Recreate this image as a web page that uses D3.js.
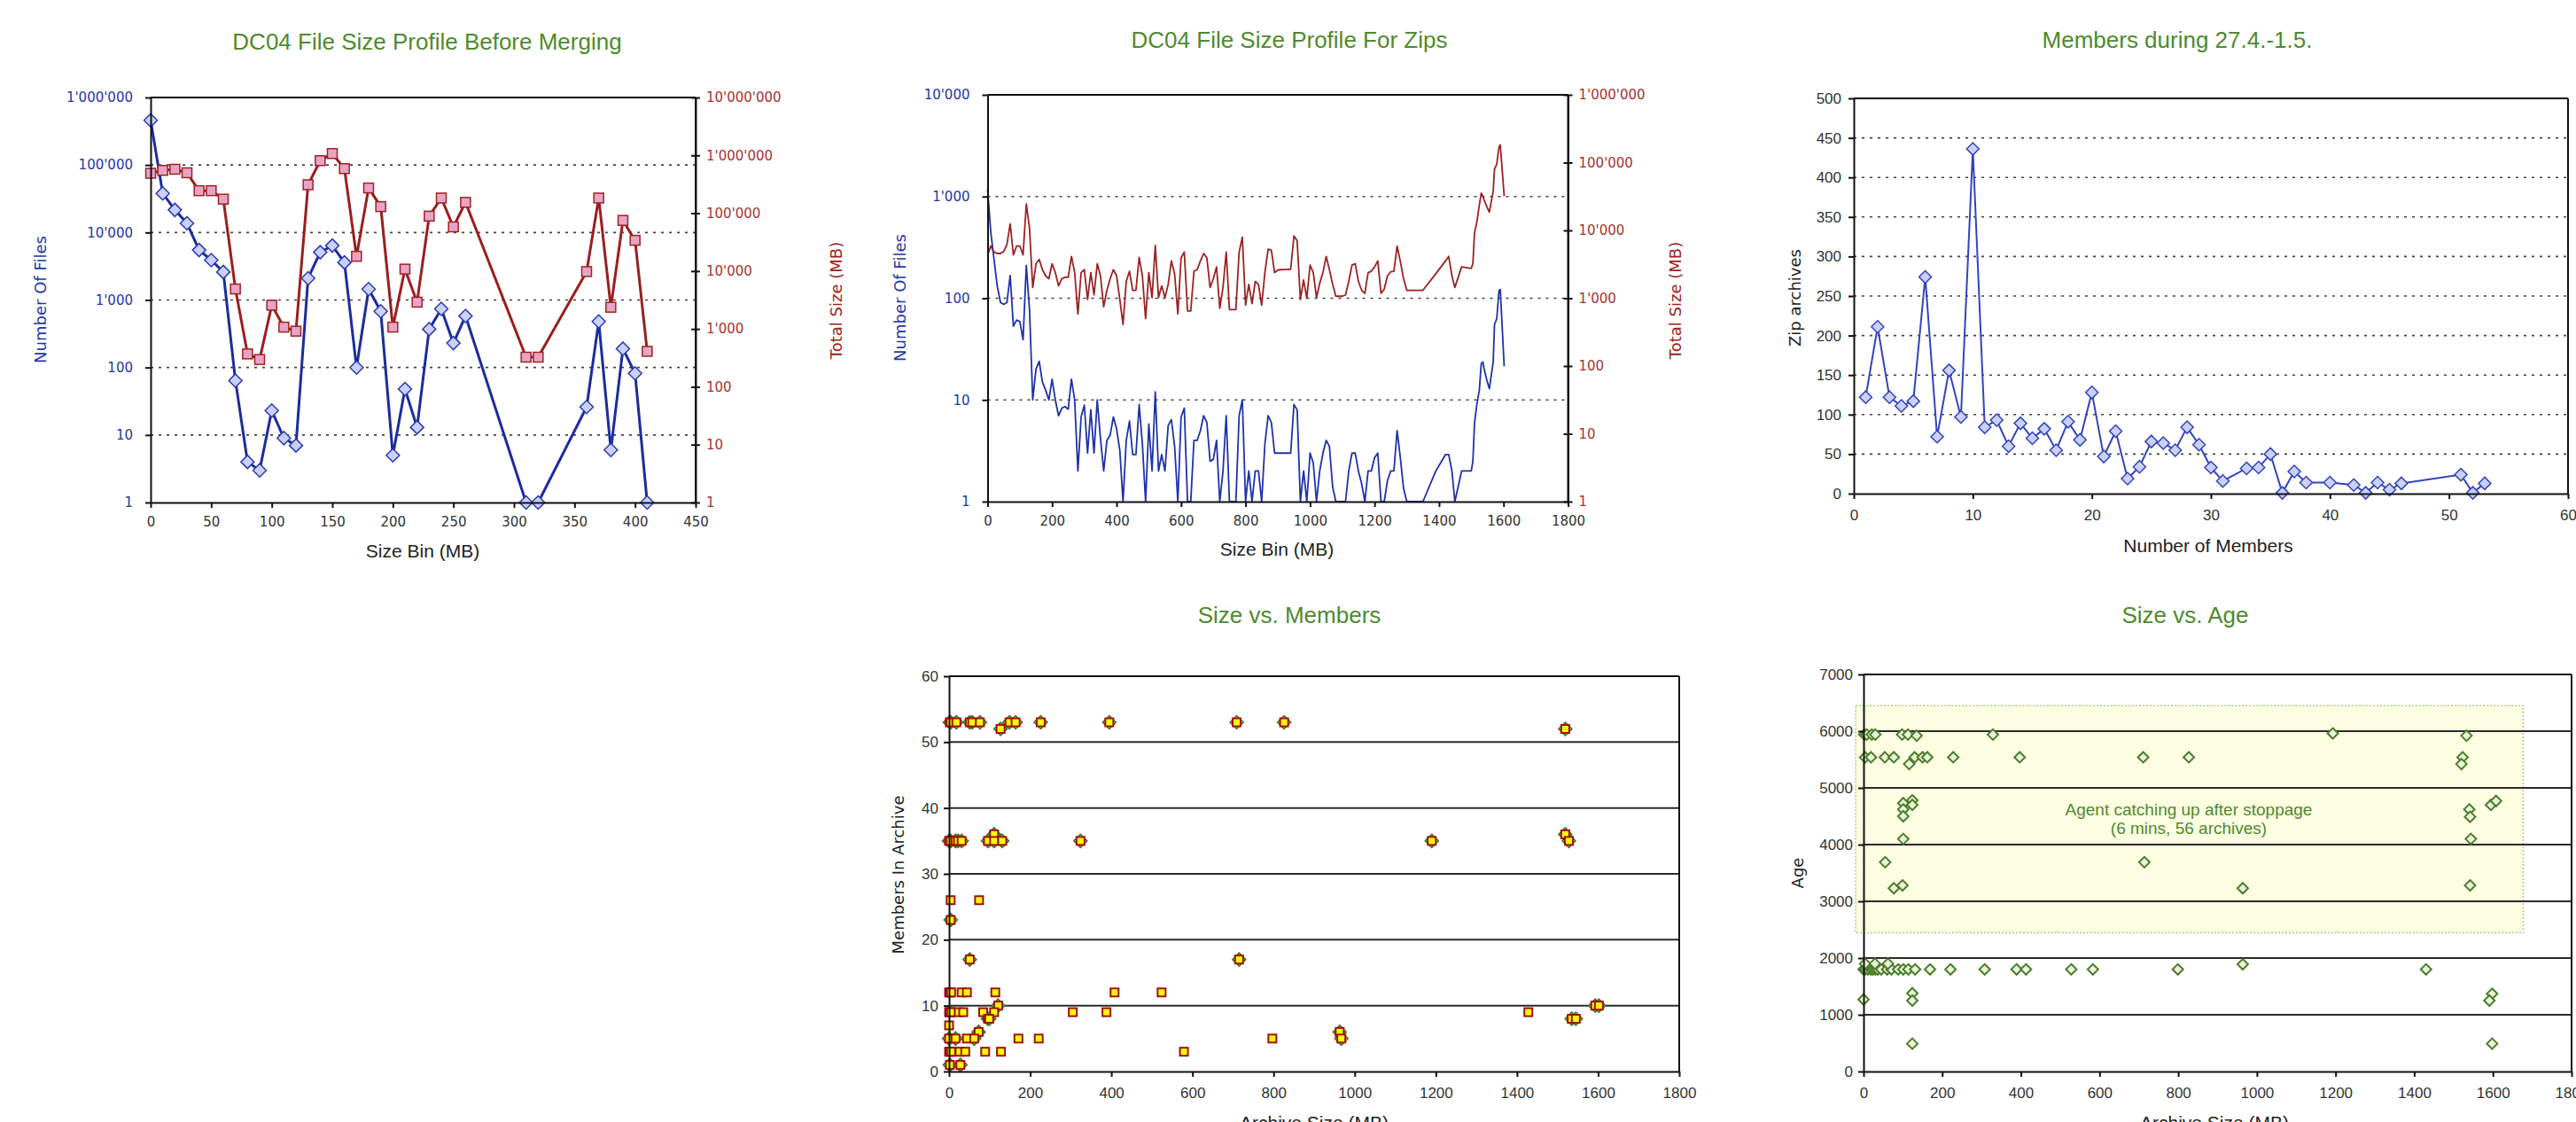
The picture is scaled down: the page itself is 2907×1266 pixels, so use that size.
<!DOCTYPE html>
<html>
<head>
<meta charset="utf-8">
<script src="https://cdn.jsdelivr.net/npm/d3@7"></script>
<style>
  body { margin: 0; background: #fff; }
  svg { display: block; }
</style>
</head>
<body>
<script>
// ---- chart 1: file size profile before merging (10 MB bins)
const sizeBins1 = [0, 10, 20, 30, 40, 50, 60, 70, 80, 90, 100, 110, 120, 130, 140, 150, 160, 170, 180, 190,
  200, 210, 220, 230, 240, 250, 260, 310, 320, 360, 370, 380, 390, 400, 410];
const files1 = [460000, 38000, 21600, 13700, 5500, 3900, 2600, 64, 4, 3, 23, 9, 7, 2100, 5100, 6400, 3600, 100, 1450, 680,
  5, 48, 13, 370, 740, 230, 580, 1, 1, 26, 480, 6, 190, 82, 1];
const total1 = [490000, 550000, 575000, 500000, 245000, 245000, 175000, 4900, 370, 296, 2570, 1075, 915, 310000, 810000, 1075000, 590000, 18000, 273000, 130000,
  1075, 10800, 2900, 89000, 183000, 58000, 154000, 325, 325, 9800, 183000, 2370, 75000, 34000, 410];
const sizeTicks1 = [0, 50, 100, 150, 200, 250, 300, 350, 400, 450];
const filesTicks1 = [1, 10, 100, 1000, 10000, 100000, 1000000];
const totalTicks1 = [1, 10, 100, 1000, 10000, 100000, 1000000, 10000000];

// ---- chart 2: file size profile for zips
const sizeBins2 = [0, 10, 20, 30, 40, 50, 60, 70, 80, 90,
  100, 110, 120, 130, 140, 150, 160, 170, 180, 190,
  200, 210, 220, 230, 240, 250, 260, 270, 280, 290,
  300, 310, 320, 330, 340, 350, 360, 370, 380, 390,
  400, 410, 420, 430, 440, 450, 460, 470, 480, 490,
  500, 510, 520, 530, 540, 550, 560, 570, 580, 590,
  600, 610, 620, 630, 640, 650, 660, 670, 680, 690,
  700, 710, 720, 730, 740, 750, 760, 770, 780, 790,
  800, 810, 820, 830, 840, 850, 860, 870, 880, 890,
  900, 910, 920, 930, 940, 950, 960, 970, 980, 990,
  1000, 1010, 1020, 1030, 1040, 1050, 1060, 1070, 1080, 1090,
  1100, 1110, 1120, 1130, 1140, 1150, 1160, 1170, 1180, 1190,
  1200, 1210, 1220, 1230, 1240, 1250, 1260, 1270, 1280, 1290,
  1300, 1350, 1390, 1420, 1430, 1440, 1449, 1470, 1500, 1505, 1510, 1517, 1525, 1531, 1536, 1540,
  1549, 1556, 1568, 1572, 1579, 1586, 1590, 1595, 1602];
const files2 = [1175, 443, 240, 131, 91, 87, 91, 167, 53, 61,
  59, 39, 210, 77, 10, 20, 24, 15, 12.5, 10,
  16, 10, 7, 8.3, 8.6, 8.1, 16, 10, 2, 6.8,
  8.9, 3, 8, 3, 10, 4.2, 2, 4, 4.5, 6.8,
  5.2, 3.2, 1, 4, 6.2, 2.9, 2.9, 9, 3.7, 1,
  5.8, 2, 12, 2, 2.9, 2, 5.6, 6.4, 3.5, 1,
  6.8, 8.3, 1, 1, 4, 4, 5, 7, 6, 2.5,
  2.6, 4, 1, 2, 7, 1, 1, 1, 7, 10,
  1, 2, 1, 2, 2, 1, 3.7, 7, 6, 3,
  3, 3, 3, 3, 3, 9, 8, 1, 2, 1,
  3, 2.4, 1, 2, 3, 4, 3.5, 1.4, 1, 1,
  1, 1, 2, 3, 3, 2, 1.5, 1, 2, 2,
  2.7, 3, 1, 1, 1.6, 2, 2, 5, 2.7, 1.35,
  1, 1, 2, 2.9, 2.9, 2, 1, 2, 2, 2.5, 5.9, 8.9, 12.5, 22.8, 23.6, 20,
  15.3, 12.9, 23.6, 55, 63, 119, 122, 58.6, 21.4];
const total2 = [4360, 5900, 4800, 4570, 4570, 4900, 6200, 12500, 4360, 5900,
  5900, 4360, 24500, 10700, 1440, 3230, 3730, 2640, 2140, 1940,
  3230, 2390, 1520, 1940, 2040, 2040, 4140, 2390, 585, 2390,
  2640, 960, 2390, 1120, 3230, 2140, 750, 1310, 1940, 2640,
  2140, 960, 410, 1770, 2500, 1310, 1310, 4000, 2140, 500,
  2390, 1020, 6000, 1020, 1520, 1020, 1600, 3550, 2270, 585,
  3930, 4800, 650, 650, 2500, 2640, 3550, 4570, 3930, 1440,
  1940, 2900, 710, 1440, 4800, 680, 680, 680, 4800, 7940,
  790, 1600, 830, 1770, 1600, 790, 2400, 5300, 5100, 2390,
  2600, 2640, 2650, 2660, 2680, 8300, 7000, 960, 1860, 1000,
  3080, 2390, 1020, 1670, 2390, 4140, 2640, 1600, 1070, 1070,
  1070, 1120, 1770, 3080, 3230, 1770, 1310, 1180, 2390, 2500,
  2900, 3550, 1180, 1360, 2140, 2450, 2500, 5870, 3500, 1940,
  1310, 1310, 2300, 3550, 4140, 2140, 1440, 2900, 2760, 3230, 9200, 13100, 23800, 35600, 32000, 28000,
  22000, 18600, 38000, 80000, 95000, 170000, 182000, 89000, 32000];
const sizeTicks2 = [0, 200, 400, 600, 800, 1000, 1200, 1400, 1600, 1800];
const filesTicks2 = [1, 10, 100, 1000, 10000];
const totalTicks2 = [1, 10, 100, 1000, 10000, 100000, 1000000];

// ---- chart 3: members during 27.4.-1.5.
const members3 = [1, 2, 3, 4, 5, 6, 7, 8, 9, 10, 11, 12, 13, 14, 15, 16, 17, 18, 19, 20,
  21, 22, 23, 24, 25, 26, 27, 28, 29, 30, 31, 33, 34, 35, 36, 37, 38, 40, 42, 43, 44, 45, 46, 51, 52, 53];
const zips3 = [122, 211, 122, 111, 117, 274, 72, 156, 97, 436, 84, 93, 60, 89, 70, 82, 55, 91, 68, 128,
  47, 79, 19, 34, 66, 64, 55, 84, 62, 33, 16, 32, 33, 50, 1, 28, 14, 14, 11, 1, 14, 5, 13, 24, 1, 13];
const memberTicks3 = [0, 10, 20, 30, 40, 50, 60];
const zipTicks3 = [0, 50, 100, 150, 200, 250, 300, 350, 400, 450, 500];

// ---- chart 4: size vs. members (all archives = squares, catch-up archives = diamonds)
const sqSize4 = [2, 4, 18, 51, 57, 76, 127, 149, 164, 226, 395, 709, 826, 1519,
  0, 4, 16, 22, 31, 96, 111, 111, 131, 324, 1190, 1519, 1528,
  4, 74, 4, 51, 715,
  0, 3, 5, 31, 44, 114, 408, 524,
  121, 1593, 1602,
  0, 2, 5, 24, 35, 84, 111, 305, 388, 1428,
  96, 99, 1535, 1545, 0, 73, 963,
  0, 16, 44, 62, 171, 221, 797, 967,
  0, 3, 5, 26, 40, 89, 128, 579, 2, 28];
const sqMembers4 = [53, 53, 53, 53, 53, 53, 52, 53, 53, 53, 53, 53, 53, 52,
  35, 35, 35, 35, 35, 35, 36, 35, 35, 35, 35, 36, 35,
  26, 26, 23, 17, 17,
  12, 12, 12, 12, 12, 12, 12, 12,
  10, 10, 10,
  9, 9, 9, 9, 9, 9, 9, 9, 9, 9,
  8, 8, 8, 8, 7, 6, 6,
  5, 5, 5, 5, 5, 5, 5, 5,
  3, 3, 3, 3, 3, 3, 3, 3, 1, 1];
const diaSize4 = [2, 4, 18, 51, 57, 76, 127, 149, 164, 226, 395, 709, 826, 1519,
  0, 4, 16, 22, 31, 96, 111, 111, 131, 324, 1190, 1519, 1528,
  4, 51, 715, 121, 1593, 1602, 96, 99, 1535, 1545, 73, 963, 967, 0, 16, 62, 2, 28];
const diaMembers4 = [53, 53, 53, 53, 53, 53, 52, 53, 53, 53, 53, 53, 53, 52,
  35, 35, 35, 35, 35, 35, 36, 35, 35, 35, 35, 36, 35,
  23, 17, 17, 10, 10, 10, 8, 8, 8, 8, 6, 6, 5, 5, 5, 5, 1, 1];
const sizeTicks4 = [0, 200, 400, 600, 800, 1000, 1200, 1400, 1600, 1800];
const memberTicks4 = [0, 10, 20, 30, 40, 50, 60];

// ---- chart 5: size vs. age
const size5 = [2, 8, 21, 30, 98, 113, 135, 329, 1193, 1533,
  4, 19, 54, 77, 130, 150, 162, 228, 397, 711, 827, 1523, 116, 1520,
  124, 101, 124, 101, 101, 101, 55, 77, 99,
  1540, 1542, 1544, 1542, 1595, 1608, 714, 964,
  0, 4, 11, 19, 24, 30, 36, 45, 60, 71, 88, 101, 114, 131, 169, 221, 308, 389, 413, 528, 583, 799, 1430,
  4, 29, 62, 964,
  0, 124, 124, 124, 1598, 1591, 1598];
const age5 = [5940, 5940, 5940, 5940, 5940, 5940, 5920, 5940, 5960, 5920,
  5540, 5540, 5540, 5540, 5540, 5540, 5540, 5540, 5540, 5540, 5540, 5540, 5420, 5420,
  4780, 4730, 4700, 4620, 4500, 4100, 3690, 3230, 3280,
  4620, 4490, 4100, 3280, 4700, 4770, 3690, 3230,
  1800, 1800, 1800, 1800, 1800, 1800, 1800, 1800, 1800, 1800, 1800, 1800, 1800, 1800, 1800, 1800, 1800, 1800, 1800, 1800, 1800, 1800, 1800,
  1900, 1900, 1900, 1890,
  1270, 1380, 1250, 490, 1370, 1250, 490];
const sizeTicks5 = [0, 200, 400, 600, 800, 1000, 1200, 1400, 1600, 1800];
const ageTicks5 = [0, 1000, 2000, 3000, 4000, 5000, 6000, 7000];
const catchUpSize5 = [-20, 1677];
const catchUpAge5 = [2445, 6450];

// ---------------------------------------------------------------
const W = 2907, H = 1266;
const GREEN = '#4e8a2e', BLUE = '#2337a6', RED = '#9b2222', INK = '#222';
const F_SANS = '"Liberation Sans", Arial, sans-serif';
const F_VERD = '"DejaVu Sans", Verdana, sans-serif';
const fmtQ = d3.formatLocale({decimal: '.', thousands: "'", grouping: [3], currency: ['', '']}).format(',');
const fmtN = d3.format('d');

const svg = d3.select('body').append('svg').attr('width', W).attr('height', H);
svg.append('rect').attr('width', W).attr('height', H).attr('fill', '#fff');

function diamond(r) { return `M0,${-r}L${r},0L0,${r}L${-r},0Z`; }

function label(x, y, text, o) {
  const t = svg.append('text').attr('x', x).attr('y', y).attr('dy', '0.35em')
    .attr('text-anchor', 'middle').attr('fill', o.color)
    .style('font-family', o.font).style('font-size', o.size + 'px').text(text);
  if (o.rotate) t.attr('transform', `rotate(-90,${x},${y})`);
  return t;
}

function styleAxis(g, color, font, size) {
  g.select('.domain').attr('stroke', '#111').attr('stroke-width', 2);
  g.selectAll('.tick line').attr('stroke', '#111').attr('stroke-width', 2);
  g.selectAll('.tick text').attr('fill', color).style('font-family', font).style('font-size', size + 'px');
}

function gridH(P, ys, dotted) {
  svg.append('g').selectAll('line').data(ys).enter().append('line')
    .attr('x1', P.l).attr('x2', P.r).attr('y1', d => d).attr('y2', d => d)
    .attr('stroke', dotted ? '#444' : '#2a2a2a').attr('stroke-width', dotted ? 1.6 : 2)
    .attr('stroke-dasharray', dotted ? '3,6' : null);
}

function frame(P) {
  svg.append('line').attr('x1', P.l).attr('x2', P.r).attr('y1', P.t).attr('y2', P.t)
    .attr('stroke', '#111').attr('stroke-width', 2);
  svg.append('line').attr('x1', P.r).attr('x2', P.r).attr('y1', P.t).attr('y2', P.b)
    .attr('stroke', '#111').attr('stroke-width', 2);
}

// ================= chart 1 =================
const P1 = {l: 170, r: 785, t: 110, b: 567};
const x1 = d3.scaleLinear().domain([0, 450]).range([P1.l, P1.r]);
const y1 = d3.scaleLog().domain([1, 1e6]).range([P1.b, P1.t]);
const y1r = d3.scaleLog().domain([1, 1e7]).range([P1.b, P1.t]);

gridH(P1, filesTicks1.slice(1, -1).map(y1), true);
frame(P1);

const idx1 = d3.range(sizeBins1.length);
svg.append('path')
  .attr('d', d3.line().x(i => x1(sizeBins1[i])).y(i => y1(files1[i]))(idx1))
  .attr('fill', 'none').attr('stroke', '#1c2c9c').attr('stroke-width', 3);
svg.append('g').selectAll('path').data(idx1).enter().append('path')
  .attr('d', diamond(7.5))
  .attr('transform', i => `translate(${x1(sizeBins1[i])},${y1(files1[i])})`)
  .attr('fill', '#c9d0fb').attr('stroke', '#2a3cb0').attr('stroke-width', 1.5);

svg.append('path')
  .attr('d', d3.line().x(i => x1(sizeBins1[i])).y(i => y1r(total1[i]))(idx1))
  .attr('fill', 'none').attr('stroke', '#9b1e1e').attr('stroke-width', 3);
svg.append('g').selectAll('rect').data(idx1).enter().append('rect')
  .attr('x', i => x1(sizeBins1[i]) - 5.5).attr('y', i => y1r(total1[i]) - 5.5)
  .attr('width', 11).attr('height', 11)
  .attr('fill', '#e8a4c6').attr('stroke', '#a02222').attr('stroke-width', 1.5);

const a1l = svg.append('g').attr('transform', `translate(${P1.l},0)`)
  .call(d3.axisLeft(y1).tickValues(filesTicks1).tickFormat(fmtQ).tickSizeInner(6).tickSizeOuter(0).tickPadding(14));
styleAxis(a1l, BLUE, F_VERD, 15);
const a1r = svg.append('g').attr('transform', `translate(${P1.r},0)`)
  .call(d3.axisRight(y1r).tickValues(totalTicks1).tickFormat(fmtQ).tickSizeInner(5).tickSizeOuter(0).tickPadding(7));
styleAxis(a1r, '#a83232', F_VERD, 15);
a1r.selectAll('.tick line').attr('x1', -5);
const a1b = svg.append('g').attr('transform', `translate(0,${P1.b})`)
  .call(d3.axisBottom(x1).tickValues(sizeTicks1).tickFormat(fmtN).tickSizeInner(6).tickSizeOuter(0).tickPadding(10));
styleAxis(a1b, '#333', F_VERD, 15);

label(482, 47, 'DC04 File Size Profile Before Merging', {color: GREEN, font: F_SANS, size: 26});
label(477, 622, 'Size Bin (MB)', {color: INK, font: F_SANS, size: 21});
label(46, 338, 'Number Of Files', {color: BLUE, font: F_VERD, size: 18, rotate: true});
label(944, 339, 'Total Size (MB)', {color: RED, font: F_VERD, size: 18, rotate: true});

// ================= chart 2 =================
const P2 = {l: 1114.5, r: 1769.5, t: 107, b: 566};
const x2 = d3.scaleLinear().domain([0, 1800]).range([P2.l, P2.r]);
const y2 = d3.scaleLog().domain([1, 1e4]).range([P2.b, P2.t]);
const y2r = d3.scaleLog().domain([1, 1e6]).range([P2.b, P2.t]);

gridH(P2, filesTicks2.slice(1, -1).map(y2), true);
frame(P2);

const idx2 = d3.range(sizeBins2.length);
svg.append('path')
  .attr('d', d3.line().x(i => x2(sizeBins2[i])).y(i => y2(files2[i]))(idx2))
  .attr('fill', 'none').attr('stroke', '#1f32a8').attr('stroke-width', 1.8).attr('stroke-linejoin', 'round');
svg.append('path')
  .attr('d', d3.line().x(i => x2(sizeBins2[i])).y(i => y2r(total2[i]))(idx2))
  .attr('fill', 'none').attr('stroke', '#9b2222').attr('stroke-width', 1.8).attr('stroke-linejoin', 'round');

const a2l = svg.append('g').attr('transform', `translate(${P2.l},0)`)
  .call(d3.axisLeft(y2).tickValues(filesTicks2).tickFormat(fmtQ).tickSizeInner(6).tickSizeOuter(0).tickPadding(14));
styleAxis(a2l, BLUE, F_VERD, 15);
const a2r = svg.append('g').attr('transform', `translate(${P2.r},0)`)
  .call(d3.axisRight(y2r).tickValues(totalTicks2).tickFormat(fmtQ).tickSizeInner(5).tickSizeOuter(0).tickPadding(7));
styleAxis(a2r, '#a83232', F_VERD, 15);
a2r.selectAll('.tick line').attr('x1', -5);
const a2b = svg.append('g').attr('transform', `translate(0,${P2.b})`)
  .call(d3.axisBottom(x2).tickValues(sizeTicks2).tickFormat(fmtN).tickSizeInner(6).tickSizeOuter(0).tickPadding(10));
styleAxis(a2b, '#333', F_VERD, 15);

label(1455, 45, 'DC04 File Size Profile For Zips', {color: GREEN, font: F_SANS, size: 26});
label(1441, 620, 'Size Bin (MB)', {color: INK, font: F_SANS, size: 21});
label(1016, 336, 'Number Of Files', {color: BLUE, font: F_VERD, size: 18, rotate: true});
label(1891, 339, 'Total Size (MB)', {color: RED, font: F_VERD, size: 18, rotate: true});

// ================= chart 3 =================
const P3 = {l: 2092, r: 2898, t: 111, b: 557};
const x3 = d3.scaleLinear().domain([0, 60]).range([P3.l, P3.r]);
const y3 = d3.scaleLinear().domain([0, 500]).range([P3.b, P3.t]);

gridH(P3, zipTicks3.slice(1, -1).map(y3), true);
frame(P3);

const idx3 = d3.range(members3.length);
svg.append('path')
  .attr('d', d3.line().x(i => x3(members3[i])).y(i => y3(zips3[i]))(idx3))
  .attr('fill', 'none').attr('stroke', '#3344bb').attr('stroke-width', 2);
svg.append('g').selectAll('path').data(idx3).enter().append('path')
  .attr('d', diamond(7))
  .attr('transform', i => `translate(${x3(members3[i])},${y3(zips3[i])})`)
  .attr('fill', '#c9d0fb').attr('stroke', '#3344bb').attr('stroke-width', 1.5);

const a3l = svg.append('g').attr('transform', `translate(${P3.l},0)`)
  .call(d3.axisLeft(y3).tickValues(zipTicks3).tickFormat(fmtN).tickSizeInner(6).tickSizeOuter(0).tickPadding(8));
styleAxis(a3l, '#333', F_SANS, 17);
const a3b = svg.append('g').attr('transform', `translate(0,${P3.b})`)
  .call(d3.axisBottom(x3).tickValues(memberTicks3).tickFormat(fmtN).tickSizeInner(6).tickSizeOuter(0).tickPadding(12));
styleAxis(a3b, '#333', F_SANS, 17);

label(2457, 45, 'Members during 27.4.-1.5.', {color: GREEN, font: F_SANS, size: 26});
label(2492, 616, 'Number of Members', {color: INK, font: F_SANS, size: 21});
label(2026, 336, 'Zip archives', {color: INK, font: F_VERD, size: 18, rotate: true});

// ================= chart 4 =================
const P4 = {l: 1071, r: 1895, t: 763, b: 1209};
const x4 = d3.scaleLinear().domain([0, 1800]).range([P4.l, P4.r]);
const y4 = d3.scaleLinear().domain([0, 60]).range([P4.b, P4.t]);

gridH(P4, memberTicks4.slice(1, -1).map(y4), false);
frame(P4);

svg.append('g').selectAll('path').data(d3.range(diaSize4.length)).enter().append('path')
  .attr('d', diamond(7.5))
  .attr('transform', i => `translate(${x4(diaSize4[i])},${y4(diaMembers4[i])})`)
  .attr('fill', '#b7d29a').attr('stroke', '#3f6e22').attr('stroke-width', 1.5);
svg.append('g').selectAll('rect').data(d3.range(sqSize4.length)).enter().append('rect')
  .attr('x', i => x4(sqSize4[i]) - 4.5).attr('y', i => y4(sqMembers4[i]) - 4.5)
  .attr('width', 9).attr('height', 9)
  .attr('fill', '#ffff00').attr('stroke', '#a01010').attr('stroke-width', 2);

const a4l = svg.append('g').attr('transform', `translate(${P4.l},0)`)
  .call(d3.axisLeft(y4).tickValues(memberTicks4).tickFormat(fmtN).tickSizeInner(6).tickSizeOuter(0).tickPadding(6));
styleAxis(a4l, '#333', F_SANS, 17);
const a4b = svg.append('g').attr('transform', `translate(0,${P4.b})`)
  .call(d3.axisBottom(x4).tickValues(sizeTicks4).tickFormat(fmtN).tickSizeInner(6).tickSizeOuter(0).tickPadding(12));
styleAxis(a4b, '#333', F_SANS, 17);

label(1455, 694, 'Size vs. Members', {color: GREEN, font: F_SANS, size: 26});
label(1483, 1267, 'Archive Size (MB)', {color: INK, font: F_SANS, size: 21});
label(1014, 987, 'Members In Archive', {color: INK, font: F_VERD, size: 18, rotate: true});

// ================= chart 5 =================
const P5 = {l: 2103, r: 2902, t: 761, b: 1209};
const x5 = d3.scaleLinear().domain([0, 1800]).range([P5.l, P5.r]);
const y5 = d3.scaleLinear().domain([0, 7000]).range([P5.b, P5.t]);

svg.append('rect')
  .attr('x', x5(catchUpSize5[0])).attr('y', y5(catchUpAge5[1]))
  .attr('width', x5(catchUpSize5[1]) - x5(catchUpSize5[0]))
  .attr('height', y5(catchUpAge5[0]) - y5(catchUpAge5[1]))
  .attr('fill', '#fdfde2').attr('stroke', '#a9cc8c').attr('stroke-width', 1.5).attr('stroke-dasharray', '2,2');

gridH(P5, ageTicks5.slice(1, -1).map(y5), false);
frame(P5);

svg.append('g').selectAll('path').data(d3.range(size5.length)).enter().append('path')
  .attr('d', diamond(6))
  .attr('transform', i => `translate(${x5(size5[i])},${y5(age5[i])})`)
  .attr('fill', '#e9f3da').attr('stroke', '#4d7d2c').attr('stroke-width', 2);

const a5l = svg.append('g').attr('transform', `translate(${P5.l},0)`)
  .call(d3.axisLeft(y5).tickValues(ageTicks5).tickFormat(fmtN).tickSizeInner(6).tickSizeOuter(0).tickPadding(6));
styleAxis(a5l, '#333', F_SANS, 17);
const a5b = svg.append('g').attr('transform', `translate(0,${P5.b})`)
  .call(d3.axisBottom(x5).tickValues(sizeTicks5).tickFormat(fmtN).tickSizeInner(6).tickSizeOuter(0).tickPadding(12));
styleAxis(a5b, '#333', F_SANS, 17);

label(2470, 913, 'Agent catching up after stoppage', {color: GREEN, font: F_SANS, size: 19});
label(2470, 934, '(6 mins, 56 archives)', {color: GREEN, font: F_SANS, size: 19});

label(2466, 694, 'Size vs. Age', {color: GREEN, font: F_SANS, size: 26});
label(2499, 1267, 'Archive Size (MB)', {color: INK, font: F_SANS, size: 21});
label(2029, 985, 'Age', {color: INK, font: F_VERD, size: 18, rotate: true});
</script>
</body>
</html>
